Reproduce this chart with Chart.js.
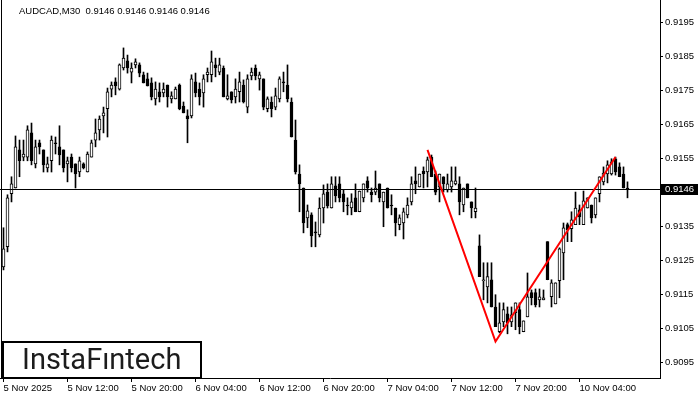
<!DOCTYPE html>
<html>
<head>
<meta charset="utf-8">
<script src="https://cdn.jsdelivr.net/npm/chart.js@4.4.1/dist/chart.umd.min.js"></script>
<style>
  html, body { margin: 0; padding: 0; background: #fff; }
  #wrap { width: 700px; height: 400px; }
</style>
</head>
<body>
<div id="wrap"><canvas id="chart" width="700" height="400"></canvas></div>
<script>
const headerText = "AUDCAD,M30  0.9146 0.9146 0.9146 0.9146";
const lastPrice = 0.9146;

// x axis: one tick every 16 bars (8 hours of M30)
const xTickBars = [0, 16, 32, 48, 64, 80, 96, 112, 128, 144];
const xTickLabels = ["5 Nov 2025", "5 Nov 12:00", "5 Nov 20:00", "6 Nov 04:00", "6 Nov 12:00",
  "6 Nov 20:00", "7 Nov 04:00", "7 Nov 12:00", "7 Nov 20:00", "10 Nov 04:00"];
const yTicks = [0.9095, 0.9105, 0.9115, 0.9125, 0.9135, 0.9145, 0.9155, 0.9165, 0.9175, 0.9185, 0.9195];

const open = [
  0.91230, 0.91289, 0.91445, 0.91462, 0.91574, 0.91553, 0.91553, 0.91624, 0.91533, 0.91595,
  0.91574, 0.91521, 0.91542, 0.91595, 0.91583, 0.91574, 0.91533, 0.91553, 0.91533, 0.91509,
  0.91533, 0.91509, 0.91553, 0.91603, 0.91633, 0.91674, 0.91695, 0.91753, 0.91774, 0.91753,
  0.91815, 0.91836, 0.91803, 0.91824, 0.91824, 0.91795, 0.91783, 0.91771, 0.91724, 0.91745,
  0.91742, 0.91765, 0.91724, 0.91724, 0.91765, 0.91703, 0.91674, 0.91674, 0.91774, 0.91753,
  0.91742, 0.91795, 0.91795, 0.91824, 0.91803, 0.91815, 0.91724, 0.91745, 0.91730, 0.91745,
  0.91765, 0.91700, 0.91792, 0.91815, 0.91783, 0.91783, 0.91695, 0.91715, 0.91700, 0.91724,
  0.91774, 0.91765, 0.91715, 0.91603, 0.91503, 0.91462, 0.91374, 0.91383, 0.91333, 0.91324,
  0.91403, 0.91450, 0.91403, 0.91468, 0.91474, 0.91445, 0.91412, 0.91403, 0.91433, 0.91392,
  0.91433, 0.91483, 0.91450, 0.91450, 0.91474, 0.91421, 0.91462, 0.91412, 0.91403, 0.91354,
  0.91359, 0.91383, 0.91421, 0.91483, 0.91465, 0.91512, 0.91509, 0.91553, 0.91503, 0.91465,
  0.91495, 0.91456, 0.91465, 0.91474, 0.91474, 0.91412, 0.91474, 0.91421, 0.91392, 0.91292,
  0.91189, 0.91171, 0.91192, 0.91112, 0.91039, 0.91068, 0.91092, 0.91068, 0.91095, 0.91104,
  0.91039, 0.91083, 0.91154, 0.91154, 0.91133, 0.91133, 0.91304, 0.91142, 0.91121, 0.91189,
  0.91271, 0.91354, 0.91342, 0.91354, 0.91398, 0.91354, 0.91403, 0.91412, 0.91383, 0.91445,
  0.91480, 0.91503, 0.91503, 0.91548, 0.91524, 0.91503, 0.91462
];
const high = [
  0.91345, 0.91442, 0.91495, 0.91615, 0.91603, 0.91603, 0.91645, 0.91653, 0.91603, 0.91603,
  0.91574, 0.91553, 0.91615, 0.91612, 0.91645, 0.91574, 0.91553, 0.91562, 0.91533, 0.91553,
  0.91536, 0.91568, 0.91603, 0.91665, 0.91674, 0.91700, 0.91756, 0.91774, 0.91786, 0.91827,
  0.91874, 0.91853, 0.91830, 0.91842, 0.91830, 0.91803, 0.91800, 0.91786, 0.91774, 0.91771,
  0.91771, 0.91765, 0.91745, 0.91759, 0.91768, 0.91715, 0.91692, 0.91795, 0.91800, 0.91771,
  0.91795, 0.91815, 0.91865, 0.91844, 0.91844, 0.91821, 0.91795, 0.91745, 0.91783, 0.91803,
  0.91780, 0.91795, 0.91815, 0.91824, 0.91803, 0.91783, 0.91730, 0.91730, 0.91756, 0.91789,
  0.91803, 0.91824, 0.91727, 0.91662, 0.91530, 0.91462, 0.91412, 0.91389, 0.91362, 0.91433,
  0.91471, 0.91474, 0.91495, 0.91495, 0.91495, 0.91456, 0.91433, 0.91445, 0.91474, 0.91453,
  0.91474, 0.91495, 0.91462, 0.91512, 0.91474, 0.91450, 0.91462, 0.91442, 0.91403, 0.91383,
  0.91403, 0.91433, 0.91495, 0.91524, 0.91503, 0.91524, 0.91553, 0.91559, 0.91512, 0.91503,
  0.91495, 0.91503, 0.91524, 0.91524, 0.91495, 0.91462, 0.91474, 0.91421, 0.91462, 0.91324,
  0.91242, 0.91242, 0.91242, 0.91148, 0.91124, 0.91124, 0.91112, 0.91112, 0.91124, 0.91124,
  0.91071, 0.91212, 0.91162, 0.91165, 0.91165, 0.91162, 0.91304, 0.91192, 0.91183, 0.91286,
  0.91359, 0.91359, 0.91392, 0.91450, 0.91412, 0.91453, 0.91433, 0.91412, 0.91433, 0.91495,
  0.91524, 0.91542, 0.91548, 0.91553, 0.91536, 0.91524, 0.91480
];
const low = [
  0.91221, 0.91274, 0.91421, 0.91462, 0.91495, 0.91542, 0.91542, 0.91530, 0.91521, 0.91562,
  0.91509, 0.91509, 0.91509, 0.91562, 0.91530, 0.91509, 0.91480, 0.91509, 0.91462, 0.91495,
  0.91518, 0.91509, 0.91553, 0.91583, 0.91603, 0.91624, 0.91612, 0.91730, 0.91736, 0.91750,
  0.91809, 0.91800, 0.91771, 0.91815, 0.91789, 0.91771, 0.91762, 0.91721, 0.91706, 0.91715,
  0.91730, 0.91700, 0.91712, 0.91724, 0.91692, 0.91683, 0.91595, 0.91668, 0.91730, 0.91706,
  0.91700, 0.91774, 0.91774, 0.91789, 0.91795, 0.91730, 0.91721, 0.91712, 0.91712, 0.91715,
  0.91712, 0.91683, 0.91780, 0.91780, 0.91750, 0.91692, 0.91686, 0.91671, 0.91692, 0.91715,
  0.91745, 0.91715, 0.91612, 0.91503, 0.91392, 0.91330, 0.91345, 0.91289, 0.91289, 0.91318,
  0.91359, 0.91403, 0.91403, 0.91421, 0.91421, 0.91392, 0.91383, 0.91383, 0.91392, 0.91392,
  0.91421, 0.91450, 0.91421, 0.91442, 0.91421, 0.91348, 0.91403, 0.91383, 0.91321, 0.91339,
  0.91312, 0.91374, 0.91412, 0.91445, 0.91465, 0.91462, 0.91465, 0.91495, 0.91442, 0.91421,
  0.91450, 0.91450, 0.91450, 0.91471, 0.91383, 0.91392, 0.91433, 0.91374, 0.91374, 0.91201,
  0.91133, 0.91124, 0.91112, 0.91054, 0.91036, 0.91054, 0.91033, 0.91054, 0.91045, 0.91033,
  0.91039, 0.91083, 0.91118, 0.91112, 0.91112, 0.91133, 0.91192, 0.91112, 0.91121, 0.91139,
  0.91192, 0.91304, 0.91304, 0.91354, 0.91354, 0.91354, 0.91403, 0.91359, 0.91374, 0.91421,
  0.91471, 0.91477, 0.91500, 0.91500, 0.91495, 0.91462, 0.91433
];
const close = [
  0.91283, 0.91433, 0.91474, 0.91583, 0.91542, 0.91562, 0.91633, 0.91542, 0.91583, 0.91583,
  0.91530, 0.91533, 0.91603, 0.91592, 0.91559, 0.91521, 0.91542, 0.91521, 0.91503, 0.91542,
  0.91521, 0.91562, 0.91595, 0.91624, 0.91665, 0.91683, 0.91745, 0.91765, 0.91762, 0.91824,
  0.91844, 0.91815, 0.91815, 0.91833, 0.91800, 0.91771, 0.91762, 0.91730, 0.91753, 0.91730,
  0.91753, 0.91730, 0.91733, 0.91753, 0.91695, 0.91683, 0.91665, 0.91783, 0.91742, 0.91730,
  0.91783, 0.91803, 0.91833, 0.91815, 0.91824, 0.91730, 0.91733, 0.91721, 0.91753, 0.91774,
  0.91715, 0.91783, 0.91803, 0.91792, 0.91795, 0.91700, 0.91724, 0.91695, 0.91733, 0.91783,
  0.91771, 0.91724, 0.91612, 0.91509, 0.91474, 0.91359, 0.91395, 0.91321, 0.91330, 0.91403,
  0.91445, 0.91409, 0.91474, 0.91439, 0.91433, 0.91421, 0.91409, 0.91421, 0.91392, 0.91453,
  0.91474, 0.91462, 0.91442, 0.91462, 0.91433, 0.91450, 0.91403, 0.91409, 0.91359, 0.91374,
  0.91392, 0.91412, 0.91474, 0.91474, 0.91503, 0.91503, 0.91545, 0.91495, 0.91450, 0.91503,
  0.91474, 0.91474, 0.91483, 0.91483, 0.91421, 0.91462, 0.91433, 0.91403, 0.91403, 0.91201,
  0.91192, 0.91201, 0.91112, 0.91054, 0.91065, 0.91104, 0.91065, 0.91089, 0.91124, 0.91054,
  0.91071, 0.91142, 0.91139, 0.91118, 0.91142, 0.91139, 0.91192, 0.91183, 0.91183, 0.91283,
  0.91345, 0.91339, 0.91368, 0.91403, 0.91377, 0.91424, 0.91433, 0.91374, 0.91433, 0.91495,
  0.91506, 0.91530, 0.91539, 0.91509, 0.91495, 0.91462, 0.91459
];

// red pattern line (bar index, price)
const patternBars = [106, 123, 153];
const patternPrices = [0.91574, 0.91010, 0.91553];

const FONT = "'Liberation Sans', Arial, sans-serif";
Chart.defaults.font.family = FONT;
Chart.defaults.font.size = 9.5;
Chart.defaults.color = "#000";

const wicks = open.map((o, i) => ({ x: i, y: [low[i], high[i]] }));
const bodies = open.map((o, i) => ({ x: i, y: [Math.min(o, close[i]), Math.max(o, close[i])] }));
const bodyFill = open.map((o, i) => (close[i] > o ? "#fff" : "#000"));
const pattern = patternBars.map((b, i) => ({ x: b, y: patternPrices[i] }));

// current price line, price label, header and logo box
const overlay = {
  id: "overlay",
  beforeDatasetDraw(chart, args) {
    if (args.meta.type !== "line") return;
    const { ctx, chartArea: a, scales: { y } } = chart;
    const py = Math.round(y.getPixelForValue(lastPrice)) + 0.5;
    ctx.save();
    ctx.strokeStyle = "#000";
    ctx.lineWidth = 1;
    ctx.beginPath();
    ctx.moveTo(a.left, py);
    ctx.lineTo(a.right, py);
    ctx.moveTo(a.left + 1.5, a.top);
    ctx.lineTo(a.left + 1.5, a.bottom);
    ctx.stroke();
    ctx.restore();
  },
  afterDraw(chart) {
    const { ctx, chartArea: a, scales: { y } } = chart;
    const py = Math.round(y.getPixelForValue(lastPrice)) + 0.5;
    ctx.save();
    ctx.fillStyle = "#000";
    ctx.fillRect(a.right, py - 5.5, 38, 11);
    ctx.fillStyle = "#fff";
    ctx.font = "9.5px " + FONT;
    ctx.textBaseline = "middle";
    ctx.fillText(lastPrice.toFixed(4), a.right + 5, py);

    ctx.fillStyle = "#000";
    ctx.fillText(headerText, 19, 11);

    ctx.fillStyle = "#fff";
    ctx.fillRect(3, 342, 198, 36);
    ctx.lineWidth = 2;
    ctx.strokeStyle = "#000";
    ctx.strokeRect(3, 342, 198, 36);
    ctx.fillStyle = "#1c1c1c";
    ctx.font = "29px Roboto";
    ctx.textBaseline = "alphabetic";
    ctx.fillText("InstaF\u0131ntech", 22, 369);
    ctx.restore();
  }
};

new Chart(document.getElementById("chart"), {
  type: "bar",
  data: {
    datasets: [
      {
        data: wicks,
        backgroundColor: "#000",
        barThickness: 1,
        grouped: false,
        order: 3
      },
      {
        data: bodies,
        backgroundColor: bodyFill,
        borderColor: "#000",
        borderWidth: 1,
        borderSkipped: false,
        barThickness: 3,
        grouped: false,
        order: 2
      },
      {
        type: "line",
        data: pattern,
        borderColor: "#ff0000",
        borderWidth: 2,
        pointRadius: 0,
        tension: 0,
        order: 1
      }
    ]
  },
  options: {
    responsive: false,
    animation: false,
    devicePixelRatio: 1,
    layout: { padding: 0 },
    plugins: { legend: { display: false }, tooltip: { enabled: false } },
    scales: {
      x: {
        type: "linear",
        position: "bottom",
        offset: false,
        min: -0.875,
        max: 164.125,
        grid: { drawOnChartArea: false, offset: false, tickLength: 4, color: "#000" },
        border: { color: "#000", width: 1 },
        ticks: {
          align: "start",
          maxRotation: 0,
          autoSkip: false,
          padding: 1,
          callback: (v) => xTickLabels[xTickBars.indexOf(v)]
        },
        afterBuildTicks: (s) => { s.ticks = xTickBars.map((v) => ({ value: v })); },
        afterFit: (s) => { s.height = 22; s.paddingLeft = 0; s.paddingRight = 0; }
      },
      y: {
        position: "right",
        min: 0.90903,
        max: 0.92015,
        grid: { drawOnChartArea: false, tickLength: 3, color: "#000" },
        border: { color: "#000", width: 1 },
        ticks: { padding: 2, callback: (v) => v.toFixed(4) },
        afterBuildTicks: (s) => { s.ticks = yTicks.map((v) => ({ value: v })); },
        afterFit: (s) => { s.width = 40; s.paddingTop = 0; s.paddingBottom = 0; }
      }
    }
  },
  plugins: [overlay]
});
</script>
</body>
</html>
